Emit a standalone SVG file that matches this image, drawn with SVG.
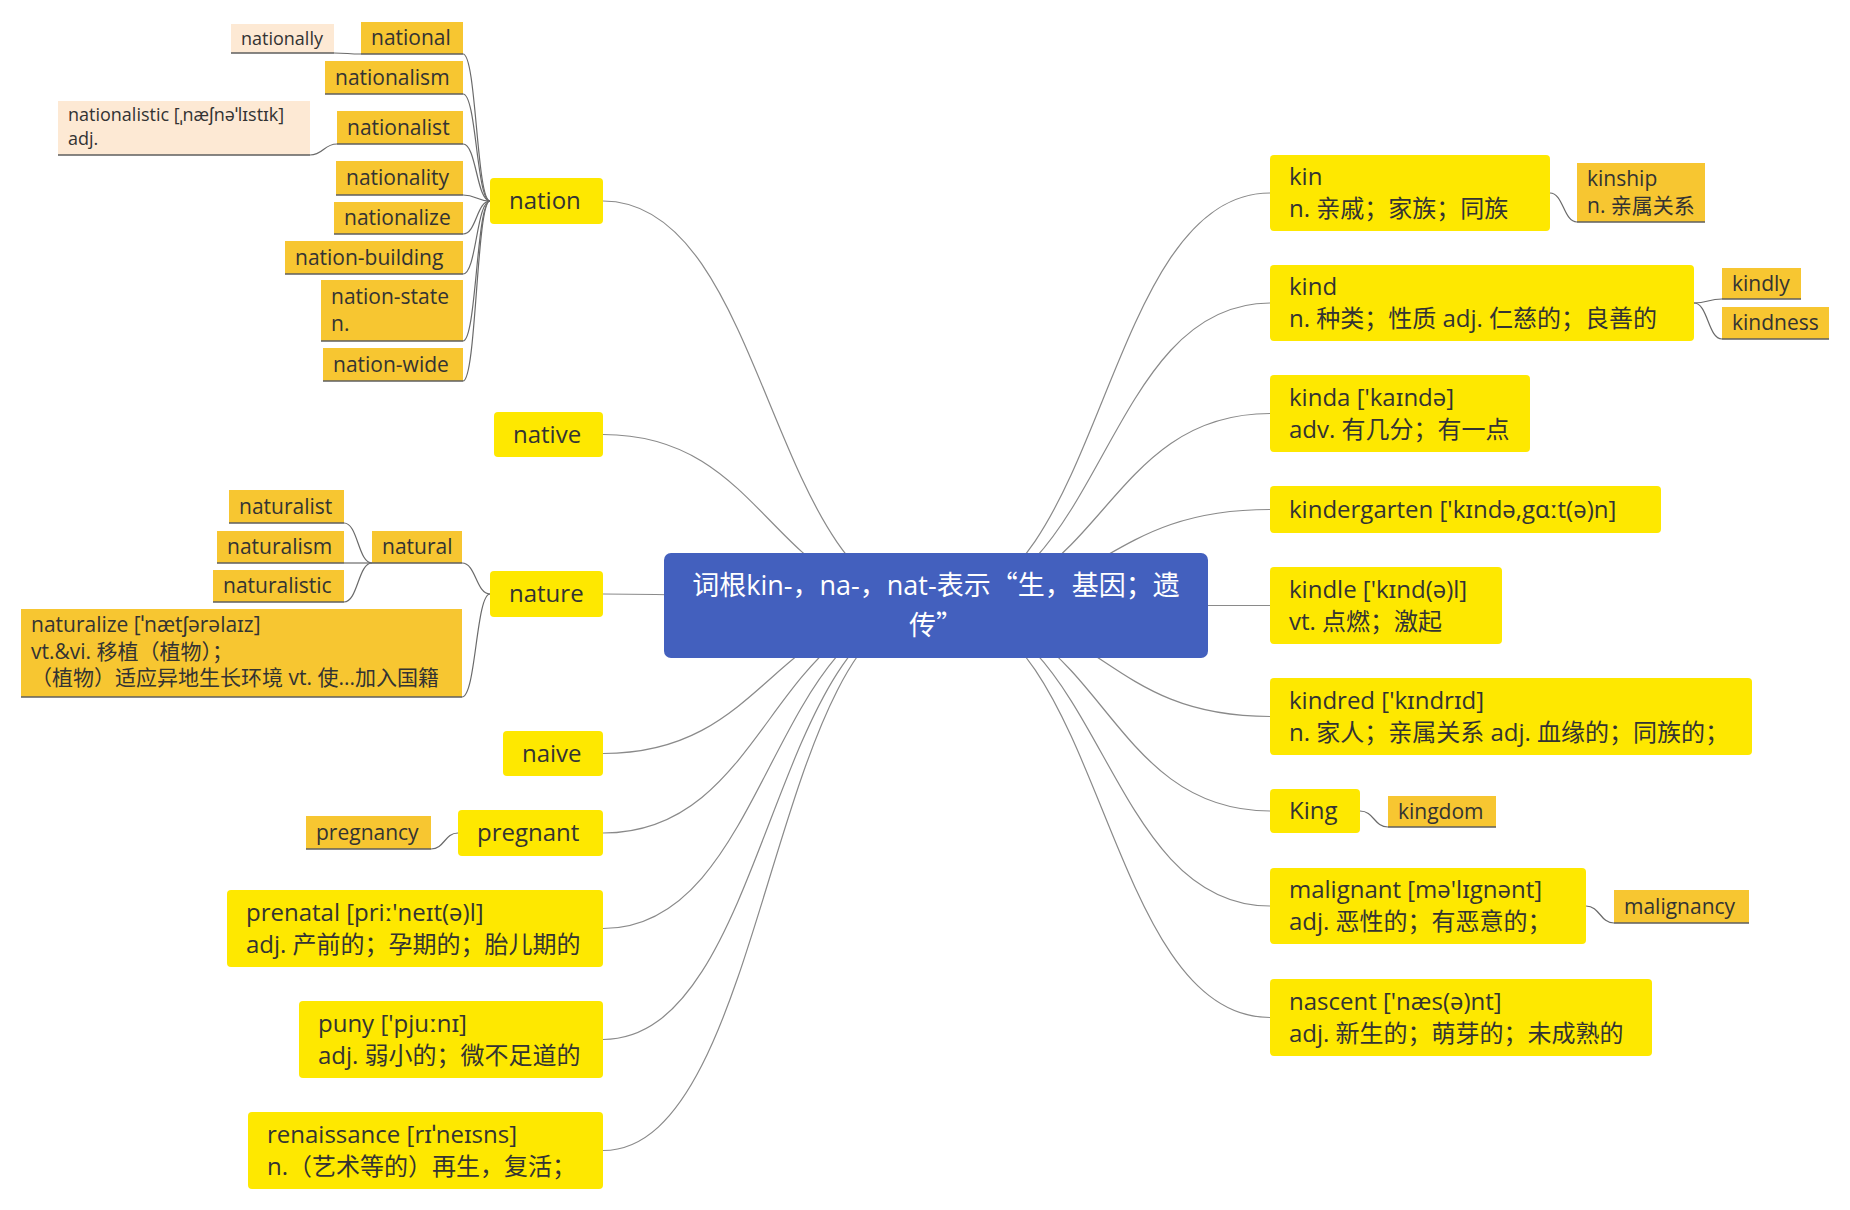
<svg xmlns="http://www.w3.org/2000/svg" width="1850" height="1210" viewBox="0 0 1850 1210">
<style>
text{font-family:"Open Sans","Noto Sans","Noto Sans CJK SC",sans-serif;fill:#333;}
.t{font-size:24px;}
.ts{font-size:21px;}
.tp{font-size:18px;}
.m{fill:#fee800;}
.s{fill:#f7c631;}
.p{fill:#fde9d4;}
.ul{stroke:#5e5e5e;stroke-width:1.3;fill:none;}
.c{fill:none;stroke:#8a8a8a;stroke-width:1.2;}
.cs{fill:none;stroke:#6a6a6a;stroke-width:1.2;}
.cj{font-family:"Noto Sans CJK SC",sans-serif;}
</style>
<rect width="1850" height="1210" fill="#ffffff"/>
<g id="connectors">
<path class="c" d="M603,201 C769.5,201 769.5,605.5 936,605.5"/>
<path class="c" d="M603,434.5 C769.5,434.5 769.5,605.5 936,605.5"/>
<path class="c" d="M603,594 C769.5,594 769.5,605.5 936,605.5"/>
<path class="c" d="M603,753.5 C769.5,753.5 769.5,605.5 936,605.5"/>
<path class="c" d="M603,833 C769.5,833 769.5,605.5 936,605.5"/>
<path class="c" d="M603,928.5 C769.5,928.5 769.5,605.5 936,605.5"/>
<path class="c" d="M603,1039.5 C769.5,1039.5 769.5,605.5 936,605.5"/>
<path class="c" d="M603,1150.5 C769.5,1150.5 769.5,605.5 936,605.5"/>
<path class="c" d="M1270,193 C1103,193 1103,605.5 936,605.5"/>
<path class="c" d="M1270,303 C1103,303 1103,605.5 936,605.5"/>
<path class="c" d="M1270,413.5 C1103,413.5 1103,605.5 936,605.5"/>
<path class="c" d="M1270,509.5 C1103,509.5 1103,605.5 936,605.5"/>
<path class="c" d="M1270,605.5 L936,605.5"/>
<path class="c" d="M1270,716.5 C1103,716.5 1103,605.5 936,605.5"/>
<path class="c" d="M1270,811 C1103,811 1103,605.5 936,605.5"/>
<path class="c" d="M1270,906 C1103,906 1103,605.5 936,605.5"/>
<path class="c" d="M1270,1017.5 C1103,1017.5 1103,605.5 936,605.5"/>
<path class="cs" d="M490,201 C476.5,201 476.5,54 463,54"/>
<path class="cs" d="M490,201 C476.5,201 476.5,94 463,94"/>
<path class="cs" d="M490,201 C476.5,201 476.5,144 463,144"/>
<path class="cs" d="M490,201 C476.5,201 476.5,195 463,195"/>
<path class="cs" d="M490,201 C476.5,201 476.5,234 463,234"/>
<path class="cs" d="M490,201 C476.5,201 476.5,274 463,274"/>
<path class="cs" d="M490,201 C476.5,201 476.5,341 463,341"/>
<path class="cs" d="M490,201 C476.5,201 476.5,381 463,381"/>
<path class="cs" d="M361,54 C347.5,54 347.5,53 334,53"/>
<path class="cs" d="M337,144 C323.5,144 323.5,155 310,155"/>
<path class="cs" d="M490,594 C476,594 476,563 462,563"/>
<path class="cs" d="M490,594 C476,594 476,697 462,697"/>
<path class="cs" d="M372,563 C358,563 358,523 344,523"/>
<path class="cs" d="M372,563 L344,563"/>
<path class="cs" d="M372,563 C358,563 358,602 344,602"/>
<path class="cs" d="M458,833 C444.5,833 444.5,849 431,849"/>
<path class="cs" d="M1550,193 C1563.5,193 1563.5,222 1577,222"/>
<path class="cs" d="M1694,303 C1708,303 1708,299 1722,299"/>
<path class="cs" d="M1694,303 C1708,303 1708,339 1722,339"/>
<path class="cs" d="M1360,811 C1374,811 1374,827 1388,827"/>
<path class="cs" d="M1586,906 C1600,906 1600,923 1614,923"/>
</g>
<g id="center">
<rect x="664" y="553" width="544" height="105" rx="7" fill="#4360be"/>
<text text-anchor="middle" style="font-size:27px;fill:#ffffff"><tspan x="936" y="595">词根kin-，na-，nat-表示<tspan class="cj">“</tspan>生，基因；遗</tspan><tspan x="936" y="635">传<tspan class="cj">”</tspan></tspan></text>
</g>
<g id="nation"><rect class="m" x="490" y="178" width="113" height="46" rx="4"/><text class="t" x="509" y="209">nation</text></g>
<g id="native"><rect class="m" x="494" y="412" width="109" height="45" rx="4"/><text class="t" x="513" y="442.5">native</text></g>
<g id="nature"><rect class="m" x="490" y="571" width="113" height="46" rx="4"/><text class="t" x="509" y="602">nature</text></g>
<g id="naive"><rect class="m" x="503" y="731" width="100" height="45" rx="4"/><text class="t" x="522" y="761.5">naive</text></g>
<g id="pregnant"><rect class="m" x="458" y="810" width="145" height="46" rx="4"/><text class="t" x="477" y="841">pregnant</text></g>
<g id="prenatal"><rect class="m" x="227" y="890" width="376" height="77" rx="4"/><text class="t" x="246" y="920.5">prenatal [priː'neɪt(ə)l]</text><text class="t" x="246" y="952.5">adj. 产前的；孕期的；胎儿期的</text></g>
<g id="puny"><rect class="m" x="299" y="1001" width="304" height="77" rx="4"/><text class="t" x="318" y="1031.5">puny ['pjuːnɪ]</text><text class="t" x="318" y="1063.5">adj. 弱小的；微不足道的</text></g>
<g id="renaissance"><rect class="m" x="248" y="1112" width="355" height="77" rx="4"/><text class="t" x="267" y="1142.5">renaissance [rɪˈneɪsns]</text><text class="t" x="267" y="1174.5">n.（艺术等的）再生，复活；</text></g>
<g id="kin"><rect class="m" x="1270" y="155" width="280" height="76" rx="4"/><text class="t" x="1289" y="185">kin</text><text class="t" x="1289" y="217">n. 亲戚；家族；同族</text></g>
<g id="kind"><rect class="m" x="1270" y="265" width="424" height="76" rx="4"/><text class="t" x="1289" y="295">kind</text><text class="t" x="1289" y="327">n. 种类；性质 adj. 仁慈的；良善的</text></g>
<g id="kinda"><rect class="m" x="1270" y="375" width="260" height="77" rx="4"/><text class="t" x="1289" y="405.5">kinda ['kaɪndə]</text><text class="t" x="1289" y="437.5">adv. 有几分；有一点</text></g>
<g id="kindergarten"><rect class="m" x="1270" y="486" width="391" height="47" rx="4"/><text class="t" x="1289" y="517.5">kindergarten ['kɪndə,gɑːt(ə)n]</text></g>
<g id="kindle"><rect class="m" x="1270" y="567" width="232" height="77" rx="4"/><text class="t" x="1289" y="597.5">kindle ['kɪnd(ə)l]</text><text class="t" x="1289" y="629.5">vt. 点燃；激起</text></g>
<g id="kindred"><rect class="m" x="1270" y="678" width="482" height="77" rx="4"/><text class="t" x="1289" y="708.5">kindred ['kɪndrɪd]</text><text class="t" x="1289" y="740.5">n. 家人；亲属关系 adj. 血缘的；同族的；</text></g>
<g id="King"><rect class="m" x="1270" y="789" width="90" height="44" rx="4"/><text class="t" x="1289" y="819">King</text></g>
<g id="malignant"><rect class="m" x="1270" y="868" width="316" height="76" rx="4"/><text class="t" x="1289" y="898">malignant [mə'lɪgnənt]</text><text class="t" x="1289" y="930">adj. 恶性的；有恶意的；</text></g>
<g id="nascent"><rect class="m" x="1270" y="979" width="382" height="77" rx="4"/><text class="t" x="1289" y="1009.5">nascent ['næs(ə)nt]</text><text class="t" x="1289" y="1041.5">adj. 新生的；萌芽的；未成熟的</text></g>
<g id="kinship"><rect class="s" x="1577" y="163" width="128" height="59"/><line class="ul" x1="1577" y1="222" x2="1705" y2="222"/><text class="ts" x="1587" y="186">kinship</text><text class="ts" x="1587" y="212.5">n. 亲属关系</text></g>
<g id="kindly"><rect class="s" x="1722" y="268" width="79" height="31"/><line class="ul" x1="1722" y1="299" x2="1801" y2="299"/><text class="ts" x="1732" y="290.5">kindly</text></g>
<g id="kindness"><rect class="s" x="1722" y="307" width="107" height="32"/><line class="ul" x1="1722" y1="339" x2="1829" y2="339"/><text class="ts" x="1732" y="330">kindness</text></g>
<g id="kingdom"><rect class="s" x="1388" y="796" width="108" height="31"/><line class="ul" x1="1388" y1="827" x2="1496" y2="827"/><text class="ts" x="1398" y="818.5">kingdom</text></g>
<g id="malignancy"><rect class="s" x="1614" y="890" width="135" height="33"/><line class="ul" x1="1614" y1="923" x2="1749" y2="923"/><text class="ts" x="1624" y="913.5">malignancy</text></g>
<g id="national"><rect class="s" x="361" y="22" width="102" height="32"/><line class="ul" x1="361" y1="54" x2="463" y2="54"/><text class="ts" x="371" y="45">national</text></g>
<g id="nationally"><rect class="p" x="231" y="24" width="103" height="29"/><line class="ul" x1="231" y1="53" x2="334" y2="53"/><text class="tp" x="241" y="44.5">nationally</text></g>
<g id="nationalism"><rect class="s" x="325" y="61" width="138" height="33"/><line class="ul" x1="325" y1="94" x2="463" y2="94"/><text class="ts" x="335" y="84.5">nationalism</text></g>
<g id="nationalist"><rect class="s" x="337" y="111" width="126" height="33"/><line class="ul" x1="337" y1="144" x2="463" y2="144"/><text class="ts" x="347" y="134.5">nationalist</text></g>
<g id="nationalistic"><rect class="p" x="58" y="101" width="252" height="54"/><line class="ul" x1="58" y1="155" x2="310" y2="155"/><text class="tp" x="68" y="121">nationalistic [ˌnæʃnəˈlɪstɪk]</text><text class="tp" x="68" y="145">adj.</text></g>
<g id="nationality"><rect class="s" x="336" y="161" width="127" height="34"/><line class="ul" x1="336" y1="195" x2="463" y2="195"/><text class="ts" x="346" y="185">nationality</text></g>
<g id="nationalize"><rect class="s" x="334" y="202" width="129" height="32"/><line class="ul" x1="334" y1="234" x2="463" y2="234"/><text class="ts" x="344" y="225">nationalize</text></g>
<g id="nation-building"><rect class="s" x="285" y="241" width="178" height="33"/><line class="ul" x1="285" y1="274" x2="463" y2="274"/><text class="ts" x="295" y="264.5">nation-building</text></g>
<g id="nation-state"><rect class="s" x="321" y="280" width="142" height="61"/><line class="ul" x1="321" y1="341" x2="463" y2="341"/><text class="ts" x="331" y="304">nation-state</text><text class="ts" x="331" y="330.5">n.</text></g>
<g id="nation-wide"><rect class="s" x="323" y="348" width="140" height="33"/><line class="ul" x1="323" y1="381" x2="463" y2="381"/><text class="ts" x="333" y="371.5">nation-wide</text></g>
<g id="natural"><rect class="s" x="372" y="531" width="90" height="32"/><line class="ul" x1="372" y1="563" x2="462" y2="563"/><text class="ts" x="382" y="554">natural</text></g>
<g id="naturalist"><rect class="s" x="229" y="490" width="115" height="33"/><line class="ul" x1="229" y1="523" x2="344" y2="523"/><text class="ts" x="239" y="513.5">naturalist</text></g>
<g id="naturalism"><rect class="s" x="217" y="531" width="127" height="32"/><line class="ul" x1="217" y1="563" x2="344" y2="563"/><text class="ts" x="227" y="554">naturalism</text></g>
<g id="naturalistic"><rect class="s" x="213" y="570" width="131" height="32"/><line class="ul" x1="213" y1="602" x2="344" y2="602"/><text class="ts" x="223" y="593">naturalistic</text></g>
<g id="naturalize"><rect class="s" x="21" y="609" width="441" height="88"/><line class="ul" x1="21" y1="697" x2="462" y2="697"/><text class="ts" x="31" y="632">naturalize [ˈnætʃərəlaɪz]</text><text class="ts" x="31" y="659">vt.&amp;vi. 移植（植物）；</text><text class="ts" x="31" y="685">（植物）适应异地生长环境 vt. 使...加入国籍</text></g>
<g id="pregnancy"><rect class="s" x="306" y="816" width="125" height="33"/><line class="ul" x1="306" y1="849" x2="431" y2="849"/><text class="ts" x="316" y="839.5">pregnancy</text></g>
</svg>
